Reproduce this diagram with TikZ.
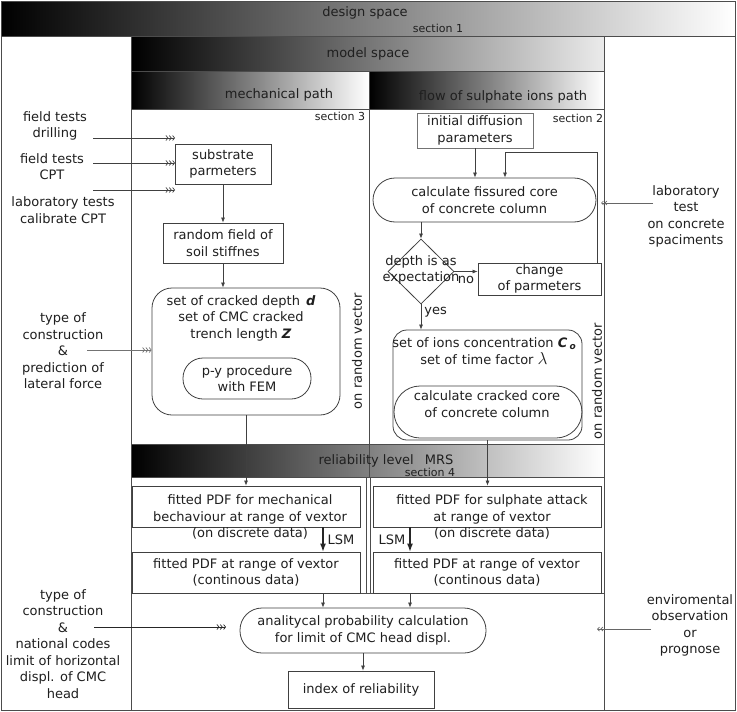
\documentclass[tikz,border=0pt]{standalone}
\usepackage{fontspec}
\setmainfont{DejaVu Sans}
\usetikzlibrary{arrows.meta,shapes.geometric}
\begin{document}
\begin{tikzpicture}[x=1pt,y=-1pt,
  txt/.style={font=\fontsize{13}{16.5}\selectfont, align=center, text=black!88, inner sep=0pt},
  smalltxt/.style={font=\fontsize{11}{13}\selectfont, text=black!88, inner sep=0pt},
  frame/.style={draw=black!70, line width=0.9pt},
  bx/.style={txt, draw=black!75, line width=0.8pt, rectangle},
  rbx/.style={txt, draw=black!75, line width=0.8pt, rectangle, rounded corners=#1},
  arr/.style={draw=black!75, line width=0.7pt, -{Latex[length=5pt,width=4pt]}},
  lsm/.style={draw=black!85, line width=1.1pt, -{Latex[length=8pt,width=6pt]}},
  inarr/.style={draw=black!75, line width=0.7pt, -{Straight Barb[length=2pt,width=5pt,sep=0.5pt]Straight Barb[length=2pt,width=5pt,sep=0.5pt]Straight Barb[length=2pt,width=5pt]}},
  inarrR/.style={draw=black!60, line width=0.7pt, -{Straight Barb[length=2pt,width=4pt,sep=0.5pt]Straight Barb[length=2pt,width=4pt]}},
  hdr/.style={draw=black!70, line width=0.9pt, left color=black, right color=white}
]
\useasboundingbox (0,0) rectangle (737,712);
\fill[white] (0,0) rectangle (737,712);

% ---------- headers ----------
\shade[hdr] (1,1) rectangle (735,36);
\node[txt] (hds) at (365,13) {design space};
\node[smalltxt] (hs1) at (438,28) {section 1};

\shade[hdr, right color=black!8] (131,36) rectangle (604,71);
\node[txt] (hms) at (368,54) {model space};

\shade[hdr] (131,71) rectangle (369,109);
\node[txt] (hmp) at (279,95) {mechanical path};
\shade[hdr] (369,71) rectangle (604,109);
\node[txt] (hsp) at (503,97) {flow of sulphate ions path};

% ---------- frames ----------
\draw[frame] (1,36) -- (1,710) -- (735,710) -- (735,36);
\draw[frame] (131,36) -- (131,710);
\draw[frame] (604,36) -- (604,710);
\draw[frame] (131,109) rectangle (369,444);
\draw[frame] (369,109) rectangle (604,444);
\node[smalltxt] (hs3) at (340,116) {section 3};
\node[smalltxt] (hs2) at (578,118) {section 2};

\shade[hdr] (131,444) rectangle (604,477);
\draw[frame] (369,444) -- (369,477);
\node[txt] (hrl) at (386,461) {reliability level\hspace{11pt}MRS};
\node[smalltxt] (hs4) at (430,472) {section 4};

\draw[frame] (131,477) rectangle (366,593);
\draw[frame] (370,477) rectangle (604,593);
\draw[frame] (131,593) rectangle (604,710);

% ---------- mechanical path ----------
\node[bx, minimum width=96pt, minimum height=40pt] (sub) at (223,164) {substrate\\parmeters};
\node[bx, minimum width=120pt, minimum height=40pt] (rnd) at (223,243) {random field of\\soil stiffnes};
\node[rbx=20pt, minimum width=188pt, minimum height=127pt] (crk) at (246,351.5) {};
\node[txt] (crkt) at (241,318) {set of cracked depth\hspace{6pt}\textbf{\textit{d}}\\set of CMC cracked\\trench length \textbf{\textit{Z}}};
\node[rbx=20pt, minimum width=128pt, minimum height=41pt] (py) at (247,378.5) {p-y procedure\\with FEM};
\node[txt, rotate=90] (rv1) at (357,351) {on random vector};

\draw[arr] (sub.south) -- (rnd.north);
\draw[arr] (rnd.south) -- (rnd.south |- crk.north);

% ---------- sulphate path ----------
\node[bx, draw=black!55, minimum width=116pt, minimum height=35pt] (ini) at (475,130.5) {initial diffusion\\parameters};
\node[rbx=22pt, minimum width=223pt, minimum height=44pt] (fis) at (484.5,200) {calculate fissured core\\of concrete column};
\node[diamond, draw=black!75, line width=0.8pt, minimum width=66pt, minimum height=65pt, inner sep=0pt] (dmd) at (421,271.5) {};
\node[txt] (dmdt) at (421,270) {depth is as\\expectation};
\node[bx, minimum width=123pt, minimum height=32pt] (chg) at (539.5,279) {change\\of parmeters};
\node[rbx=14pt, minimum width=189pt, minimum height=110pt] (ion) at (487.5,385) {};
\node[txt] (iont) at (484,351) {set of ions concentration \textbf{\textit{C}}\,\raisebox{-2pt}{\fontsize{9}{9}\selectfont\textbf{\textit{o}}}\\set of\hspace{5pt}time factor {\fontsize{17}{17}\selectfont$\lambda$}};
\node[rbx=26pt, minimum width=188pt, minimum height=52pt] (cck) at (488,412) {};
\node[txt] (cckt) at (487,404) {calculate cracked core\\of concrete column};
\node[txt, rotate=90] (rv2) at (597,381) {on random vector};

\coordinate (lp) at (505,152);
\draw[arr] (ini.south) -- (ini.south |- fis.north);
\draw[arr] ([xshift=-4pt]chg.north east) |- (lp) -- (lp |- fis.north);
\draw[arr] (fis.south -| dmd.north) -- (dmd.north);
\draw[arr] (dmd.east) -- (dmd.east -| chg.west) node[txt, midway, below=4pt] (nol) {no};
\draw[arr] (dmd.south) -- (dmd.south |- ion.north) node[txt, pos=0.3, right=3pt] (yesl) {yes};

% ---------- reliability ----------
\node[bx, minimum width=228pt, minimum height=41pt] (fm1) at (246,506.5) {};
\node[txt] (fm1t) at (250,517) {fitted PDF for mechanical\\bechaviour at range of vextor\\(on discrete data)};
\node[bx, minimum width=228pt, minimum height=41pt] (fm2) at (246,572.5) {fitted PDF at range of vextor\\(continous data)};
\node[bx, minimum width=228pt, minimum height=41pt] (fs1) at (487,506.5) {};
\node[txt] (fs1t) at (492,517) {fitted PDF for sulphate attack\\at range of vextor\\(on discrete data)};
\node[bx, minimum width=228pt, minimum height=41pt] (fs2) at (487,572.5) {fitted PDF at range of vextor\\(continous data)};

\draw[arr] (crk.south) -- (crk.south |- fm1.north);
\draw[arr] (ion.south) -- (ion.south |- fs1.north);
\draw[lsm] ([xshift=77pt]fm1.south) -- ([xshift=77pt]fm2.north) node[txt, midway, right=4pt] (lsm1) {LSM};
\draw[lsm] ([xshift=-77pt]fs1.south) -- ([xshift=-77pt]fs2.north) node[txt, midway, left=4pt] (lsm2) {LSM};

\node[rbx=22pt, minimum width=246pt, minimum height=45pt] (ana) at (363,630.5) {analitycal probability calculation\\for limit of CMC head displ.};
\node[bx, minimum width=146pt, minimum height=37pt] (idx) at (361,689.5) {index of reliability};

\draw[arr] ([xshift=77pt]fm2.south) -- ([xshift=77pt]fm2.south |- ana.north);
\draw[arr] ([xshift=-77pt]fs2.south) -- ([xshift=-77pt]fs2.south |- ana.north);
\draw[arr] (ana.south) -- (ana.south |- idx.north);

% ---------- external inputs ----------
\node[txt] (t1) at (55,126) {field tests\\drilling};
\node[txt] (t2) at (52,166.5) {field tests\\CPT};
\node[txt] (t3) at (63,210) {laboratory tests\\calibrate CPT};
\coordinate (a1s) at (93,138); \coordinate (a1e) at (175,138);
\coordinate (a2s) at (93,163); \coordinate (a2e) at (175,163);
\coordinate (a3s) at (93,190); \coordinate (a3e) at (175,190);
\draw[inarr] (a1s) -- (a1e);
\draw[inarr] (a2s) -- (a2e);
\draw[inarr] (a3s) -- (a3e);

\node[txt] (t4) at (63,351) {type of\\construction\\\&\\prediction of\\lateral force};
\coordinate (a4s) at (87,350);
\draw[inarr, draw=black!55] (a4s) -- (crk.west |- a4s);

\node[txt] (t5) at (63,644) {type of\\construction\\\&\\national codes\\limit of horizontal\\displ. of CMC\\head};
\coordinate (a5s) at (94,627); \coordinate (a5e) at (226,627);
\draw[inarr, draw=black!85] (a5s) -- (a5e);

\node[txt] (t6) at (686,216.5) {laboratory\\test\\on concrete\\spaciments};
\coordinate (a6s) at (653,203); \coordinate (a6e) at (601,203);
\draw[inarrR] (a6s) -- (a6e);
\node[txt] (t7) at (690,625.5) {enviromental\\observation\\or\\prognose};
\coordinate (a7s) at (651,629); \coordinate (a7e) at (597,629);
\draw[inarrR] (a7s) -- (a7e);
\end{tikzpicture}
\end{document}
